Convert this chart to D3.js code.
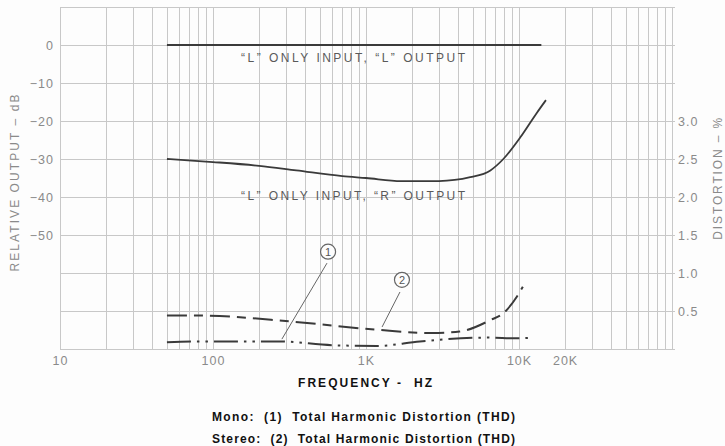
<!DOCTYPE html>
<html>
<head>
<meta charset="utf-8">
<script src="https://cdn.jsdelivr.net/npm/d3@7"></script>
<style>
  html, body { margin: 0; padding: 0; background: #fdfdfd; }
  svg { display: block; font-family: "Liberation Sans", Arial, Helvetica, sans-serif; }
  .tick text { fill: #8a8a8a; font-size: 12.5px; }
</style>
</head>
<body>
<svg id="chart" width="725" height="446"></svg>
<script>
// Left channel only input, left output (dB)
const sameChannel = [[50, 0], [14000, 0]];
// Left channel only input, right output: crosstalk (dB)
const crossChannel = [
  [50, -30], [100, -30.8], [200, -31.8], [350, -33], [700, -34.5], [1000, -35],
  [1700, -35.8], [3000, -35.8], [4800, -34.8], [6500, -33], [7900, -30],
  [10200, -24.3], [13000, -18], [15000, -14.5]
];
// Mono total harmonic distortion (%)
const thdMono = [
  [50, 0.09], [80, 0.10], [270, 0.10], [600, 0.05], [1180, 0.04], [2250, 0.10],
  [6200, 0.15], [9700, 0.14], [12400, 0.15]
];
// Stereo total harmonic distortion (%)
const thdStereo = [
  [50, 0.44], [80, 0.44], [330, 0.36], [1240, 0.25], [2700, 0.21], [4100, 0.23],
  [6500, 0.38], [7900, 0.47], [9700, 0.69], [10600, 0.82]
];

const freqTicks = [10, 100, 1000, 10000, 20000];
const freqLabels = ["10", "100", "1K", "10K", "20K"];
const dbTicks = [0, -10, -20, -30, -40, -50];
const pctTicks = [0.5, 1.0, 1.5, 2.0, 2.5, 3.0];

// Callout markers: [label, centre (Hz, %), leader from (Hz, %), leader to (Hz, %)]
const callouts = [
  ["1", [565, 1.28], [556, 1.13], [282, 0.13]],
  ["2", [1718, 0.91], [1667, 0.75], [1274, 0.29]]
];

const svg = d3.select("#chart");
const plotL = 60, plotR = 672, plotT = 7, plotB = 349;

const x = d3.scaleLog().domain([10, 100000]).range([plotL, plotR]);
const yDb = d3.scaleLinear().domain([10, -80]).range([plotT, plotB]);
const yPct = d3.scaleLinear().domain([0, 4.5]).range([plotB, plotT]);

// grid
const grid = svg.append("g").attr("stroke", "#c8c8c8").attr("stroke-width", 1);
const minor = [];
for (let dec = 10; dec < 100000; dec *= 10)
  for (let m = 1; m <= 9; m++) minor.push(dec * m);
minor.push(100000);
grid.selectAll("line.v").data(minor).join("line")
  .attr("x1", d => Math.round(x(d)) + 0.5).attr("x2", d => Math.round(x(d)) + 0.5)
  .attr("y1", plotT).attr("y2", plotB);
grid.selectAll("line.h").data(d3.range(10, -81, -10)).join("line")
  .attr("x1", plotL).attr("x2", plotR + 3)
  .attr("y1", d => Math.round(yDb(d)) + 0.5).attr("y2", d => Math.round(yDb(d)) + 0.5);

// axes
const axL = svg.append("g").attr("transform", `translate(${plotL - 3},0)`)
  .call(d3.axisLeft(yDb).tickValues(dbTicks).tickSize(0).tickFormat(d3.format("d")));
const axR = svg.append("g").attr("transform", `translate(${plotR + 3},0)`)
  .call(d3.axisRight(yPct).tickValues(pctTicks).tickSize(0).tickFormat(d3.format(".1f")));
const axB = svg.append("g").attr("transform", `translate(0,${plotB + 4})`)
  .call(d3.axisBottom(x).tickValues(freqTicks).tickSize(0)
    .tickFormat((d, i) => freqLabels[i]));
[axL, axR, axB].forEach(a => a.select(".domain").remove());
svg.selectAll(".tick text").attr("letter-spacing", "1px");

// axis titles
svg.append("text")
  .attr("transform", `translate(19,${(yDb(-50) + yDb(-10)) / 2 + 24}) rotate(-90)`)
  .attr("text-anchor", "middle").attr("fill", "#8a8a8a").attr("font-size", 12)
  .attr("textLength", 177).attr("lengthAdjust", "spacing")
  .text("RELATIVE OUTPUT – dB");
svg.append("text")
  .attr("transform", `translate(722,${yPct(2.24)}) rotate(-90)`)
  .attr("text-anchor", "middle").attr("fill", "#8a8a8a").attr("font-size", 12)
  .attr("textLength", 122).attr("lengthAdjust", "spacing")
  .text("DISTORTION – %");
svg.append("text")
  .attr("x", 365).attr("y", 387).attr("text-anchor", "middle")
  .attr("font-size", 12).attr("font-weight", "bold").attr("fill", "#111")
  .attr("textLength", 134).attr("lengthAdjust", "spacing").style("white-space", "pre")
  .text("FREQUENCY -  HZ");

svg.append("text").attr("x", 212).attr("y", 421).attr("font-size", 12)
  .attr("font-weight", "bold").attr("fill", "#111").style("white-space", "pre")
  .attr("textLength", 303).attr("lengthAdjust", "spacing")
  .text("Mono:  (1)  Total Harmonic Distortion (THD)");
svg.append("text").attr("x", 212).attr("y", 443).attr("font-size", 12)
  .attr("font-weight", "bold").attr("fill", "#111").style("white-space", "pre")
  .attr("textLength", 303).attr("lengthAdjust", "spacing")
  .text("Stereo:  (2)  Total Harmonic Distortion (THD)");

// curves
const lineDb = d3.line().x(d => x(d[0])).y(d => yDb(d[1])).curve(d3.curveMonotoneX);
const linePct = d3.line().x(d => x(d[0])).y(d => yPct(d[1])).curve(d3.curveMonotoneX);

svg.append("path").datum(sameChannel).attr("d", lineDb)
  .attr("fill", "none").attr("stroke", "#3a3a3a").attr("stroke-width", 2);
svg.append("path").datum(crossChannel).attr("d", lineDb)
  .attr("fill", "none").attr("stroke", "#3a3a3a").attr("stroke-width", 1.8);
svg.append("path").datum(thdStereo).attr("d", linePct)
  .attr("fill", "none").attr("stroke", "#3a3a3a").attr("stroke-width", 2)
  .attr("stroke-dasharray", "20,7,9,7");
svg.append("path").datum(thdMono).attr("d", linePct)
  .attr("fill", "none").attr("stroke", "#3a3a3a").attr("stroke-width", 2)
  .attr("stroke-dasharray", "24,6,2.5,6,2.5,6");

// curve labels
svg.append("text").attr("x", 241).attr("y", 62)
  .attr("font-size", 12).attr("fill", "#5a5a5a")
  .attr("textLength", 224).attr("lengthAdjust", "spacing")
  .text("\u201CL\u201D ONLY INPUT, \u201CL\u201D OUTPUT");
svg.append("text").attr("x", 241).attr("y", 200)
  .attr("font-size", 12).attr("fill", "#5a5a5a")
  .attr("textLength", 224).attr("lengthAdjust", "spacing")
  .text("\u201CL\u201D ONLY INPUT, \u201CR\u201D OUTPUT");

// numbered callouts
const co = svg.append("g");
callouts.forEach(([label, c, from, to]) => {
  co.append("line")
    .attr("x1", x(from[0])).attr("y1", yPct(from[1]))
    .attr("x2", x(to[0])).attr("y2", yPct(to[1]))
    .attr("stroke", "#666").attr("stroke-width", 1);
  co.append("circle").attr("cx", x(c[0])).attr("cy", yPct(c[1])).attr("r", 7.5)
    .attr("fill", "#fdfdfd").attr("stroke", "#666").attr("stroke-width", 1.2);
  co.append("text").attr("x", x(c[0])).attr("y", yPct(c[1]) + 4)
    .attr("text-anchor", "middle").attr("font-size", 11).attr("fill", "#555")
    .text(label);
});
</script>
</body>
</html>
